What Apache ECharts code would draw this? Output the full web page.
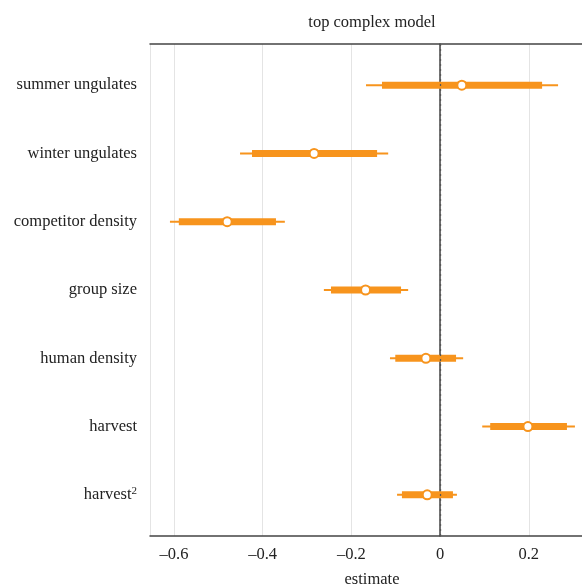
<!DOCTYPE html>
<html>
<head>
<meta charset="utf-8">
<script src="https://cdn.jsdelivr.net/npm/echarts@6/dist/echarts.min.js"></script>
<style>
 html,body{margin:0;padding:0;background:#fff;}
 #main{width:582px;height:586px;}
</style>
</head>
<body>
<div id="main"></div>
<script>
var labels = ['summer ungulates', 'winter ungulates', 'competitor density', 'group size', 'human density', 'harvest', 'harvest²'];
var means  = [0.049, -0.284, -0.480, -0.168, -0.032, 0.198, -0.029];
var lo95   = [-0.167, -0.451, -0.609, -0.262, -0.113, 0.095, -0.097];
var hi95   = [0.266, -0.117, -0.350, -0.072, 0.052, 0.304, 0.038];
var lo80   = [-0.131, -0.424, -0.589, -0.246, -0.101, 0.113, -0.086];
var hi80   = [0.230, -0.142, -0.370, -0.088, 0.036, 0.286, 0.029];

var orange = '#F7941D';
var font = 'Liberation Serif';
var fs = 16.5;

var rows = labels.map(function (l, i) {
    return [i, means[i], lo95[i], hi95[i], lo80[i], hi80[i]];
});

var chart = echarts.init(document.getElementById('main'));

var option = {
    backgroundColor: '#fff',
    animation: false,
    grid: [
        {left: 150, right: -12, top: 44, bottom: 50, outerBoundsMode: 'none', containLabel: false},
        {left: 150, right: -12, top: 51, bottom: 57, outerBoundsMode: 'none', containLabel: false}
    ],
    xAxis: [{
        type: 'value',
        gridIndex: 0,
        min: -0.654,
        max: 0.347,
        name: 'estimate',
        nameLocation: 'middle',
        nameGap: 35,
        nameTextStyle: {fontFamily: font, fontSize: fs, color: '#222'},
        axisLine: {show: true, lineStyle: {color: '#444', width: 1.5}},
        axisTick: {show: false},
        axisLabel: {
            fontFamily: font, fontSize: fs, color: '#222', margin: 10,
            showMinLabel: false, showMaxLabel: false,
            formatter: function (v) { return String(+v.toFixed(2)).replace('-', '\u2013'); }
        },
        splitLine: {show: true, lineStyle: {color: '#e4e4e4', width: 1}}
    }, {
        type: 'value',
        gridIndex: 0,
        position: 'top',
        min: -0.654,
        max: 0.347,
        name: 'top complex model',
        nameLocation: 'middle',
        nameGap: 13,
        nameTextStyle: {fontFamily: font, fontSize: fs, color: '#222'},
        axisLine: {show: true, lineStyle: {color: '#444', width: 1.5}},
        axisTick: {show: false},
        axisLabel: {show: false},
        splitLine: {show: false}
    }, {
        type: 'value',
        gridIndex: 1,
        min: -0.654,
        max: 0.347,
        show: false
    }],
    yAxis: [{
        type: 'value',
        gridIndex: 0,
        min: 0,
        max: 1,
        axisLine: {show: true, lineStyle: {color: '#444', width: 1.5}},
        axisTick: {show: false},
        axisLabel: {show: false},
        splitLine: {show: false}
    }, {
        type: 'category',
        gridIndex: 1,
        data: labels,
        inverse: true,
        axisLine: {show: false},
        axisTick: {show: false},
        splitLine: {show: false},
        axisLabel: {
            fontFamily: font, fontSize: fs, color: '#222', margin: 13,
            formatter: function (v) { return v.replace('²', '{sup|2}'); },
            rich: {sup: {fontFamily: font, fontSize: 11, color: '#222', verticalAlign: 'top', padding: [0, 0, 8, 0]}}
        }
    }],
    series: [{
        type: 'line',
        xAxisIndex: 0,
        yAxisIndex: 0,
        data: [],
        markLine: {
            silent: true,
            symbol: 'none',
            label: {show: false},
            lineStyle: {type: [2, 3], color: '#555', width: 1.3},
            data: [{xAxis: 0}]
        }
    }, {
        type: 'custom',
        xAxisIndex: 2,
        yAxisIndex: 1,
        data: rows,
        encode: {x: [1, 2, 3, 4, 5], y: 0},
        renderItem: function (params, api) {
            var y = api.value(0);
            var m = api.coord([api.value(1), y]);
            var a = api.coord([api.value(2), y]);
            var b = api.coord([api.value(3), y]);
            var c = api.coord([api.value(4), y]);
            var d = api.coord([api.value(5), y]);
            return {
                type: 'group',
                children: [{
                    type: 'line',
                    shape: {x1: a[0], y1: a[1], x2: b[0], y2: b[1]},
                    style: {stroke: orange, lineWidth: 2}
                }, {
                    type: 'line',
                    shape: {x1: c[0], y1: c[1], x2: d[0], y2: d[1]},
                    style: {stroke: orange, lineWidth: 7}
                }, {
                    type: 'circle',
                    shape: {cx: m[0], cy: m[1], r: 4.5},
                    style: {fill: '#fff', stroke: orange, lineWidth: 2}
                }]
            };
        }
    }]
};

chart.setOption(option);
</script>
</body>
</html>
